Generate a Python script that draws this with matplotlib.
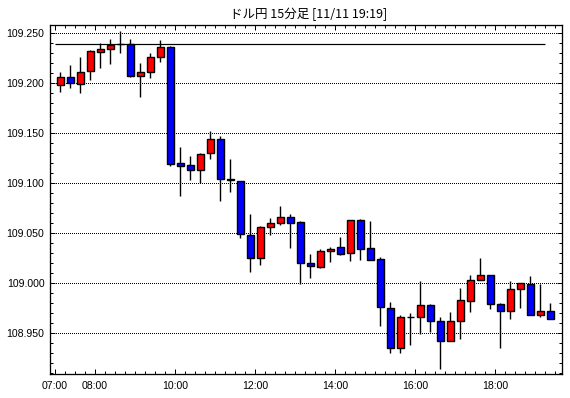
import numpy as np
import matplotlib.pyplot as plt
from matplotlib.ticker import MultipleLocator, FixedLocator

# 15-minute candles, 07:00 .. 19:15
opens = [109.198, 109.206, 109.199, 109.212, 109.231, 109.234, 109.239, 109.239, 109.207, 109.211,
         109.226, 109.236, 109.120, 109.118, 109.113, 109.130, 109.144, 109.104, 109.102, 109.048,
         109.025, 109.056, 109.060, 109.066, 109.061, 109.020, 109.016, 109.032, 109.036, 109.030,
         109.063, 109.035, 109.024, 108.975, 108.935, 108.966, 108.966, 108.978, 108.962, 108.942,
         108.962, 108.982, 109.003, 109.008, 108.979, 108.972, 108.994, 108.999, 108.968, 108.972]
highs = [109.211, 109.218, 109.226, 109.233, 109.240, 109.244, 109.252, 109.244, 109.220, 109.230,
         109.243, 109.237, 109.136, 109.127, 109.130, 109.152, 109.147, 109.124, 109.102, 109.069,
         109.057, 109.065, 109.077, 109.069, 109.062, 109.029, 109.034, 109.036, 109.046, 109.063,
         109.064, 109.062, 109.026, 108.981, 108.968, 108.970, 109.002, 108.979, 108.966, 108.971,
         108.995, 109.008, 109.025, 109.008, 108.980, 109.002, 109.000, 109.007, 108.999, 108.980]
lows = [109.191, 109.195, 109.190, 109.203, 109.215, 109.219, 109.230, 109.206, 109.186, 109.205,
        109.221, 109.117, 109.087, 109.103, 109.100, 109.124, 109.082, 109.091, 109.045, 109.011,
        109.018, 109.048, 109.058, 109.035, 108.999, 109.005, 109.015, 109.021, 109.028, 109.022,
        109.023, 109.023, 108.957, 108.930, 108.930, 108.938, 108.949, 108.951, 108.914, 108.942,
        108.944, 108.971, 109.003, 108.974, 108.935, 108.964, 108.975, 108.968, 108.966, 108.964]
closes = [109.206, 109.200, 109.211, 109.232, 109.234, 109.238, 109.239, 109.207, 109.211, 109.226,
          109.236, 109.119, 109.117, 109.113, 109.129, 109.144, 109.104, 109.103, 109.049, 109.025,
          109.056, 109.060, 109.066, 109.060, 109.020, 109.017, 109.032, 109.034, 109.029, 109.063,
          109.034, 109.023, 108.976, 108.935, 108.966, 108.966, 108.978, 108.962, 108.942, 108.962,
          108.983, 109.003, 109.008, 108.979, 108.972, 108.994, 109.000, 108.968, 108.972, 108.964]

ref_price = 109.239
time_labels = ['07:00', '08:00', '10:00', '12:00', '14:00', '16:00', '18:00']
time_slots = [0, 4, 12, 20, 28, 36, 44]   # in 15-min steps from 07:00
price_ticks = [108.950, 109.000, 109.050, 109.100, 109.150, 109.200, 109.250]
title = 'ドル円 15分足 [11/11 19:19]'

px = 72 / 100  # one pixel in points

fig = plt.figure(figsize=(5.70, 3.98), dpi=100)
ax = fig.add_axes([50 / 570, 24 / 398, 512 / 570, 349 / 398])

o = np.array(opens)
c = np.array(closes)
x = np.arange(len(o)) + 0.5
colors = np.where(c >= o, '#ff0000', '#0000ff')

# grid first, then wicks, then bodies
for p in price_ticks:
    ax.axhline(p, color='black', lw=px, ls=(0, (1, 1.5)), antialiased=False, zorder=1)
ax.hlines(ref_price, 0, len(o) - 1, color='black', lw=px * 1.2, zorder=2)
ax.vlines(x, lows, highs, color='black', lw=px * 1.4, zorder=3)
ax.bar(x, np.abs(c - o), bottom=np.minimum(o, c), width=0.7, color=colors,
       edgecolor='black', linewidth=px * 1.4, zorder=4)

ax.set_xlim(-0.5, 50.7)
ax.set_ylim(108.909, 109.258)

ax.xaxis.set_major_locator(FixedLocator(time_slots))
ax.xaxis.set_minor_locator(MultipleLocator(1))
ax.set_xticklabels(time_labels)
ax.yaxis.set_major_locator(FixedLocator(price_ticks))
ax.yaxis.set_minor_locator(MultipleLocator(0.01))
ax.set_yticklabels(['%.3f' % p for p in price_ticks])

font = ['Liberation Sans', 'DejaVu Sans']
ax.tick_params(which='both', direction='in', top=True, right=True, width=px, color='black')
ax.tick_params(which='major', length=5 * px)
ax.tick_params(which='minor', length=3 * px)
ax.tick_params(axis='y', pad=4)
ax.tick_params(axis='x', pad=5)
for lab in ax.get_xticklabels() + ax.get_yticklabels():
    lab.set_family(font)
    lab.set_fontsize(7.6)

for s in ax.spines.values():
    s.set_linewidth(px * 1.3)

fig.text(309 / 570, 1 - 14 / 398, title, ha='center', va='center', fontsize=9,
         family=['Noto Sans CJK JP', 'DejaVu Sans'])

fig.savefig('out.png', dpi=100)
